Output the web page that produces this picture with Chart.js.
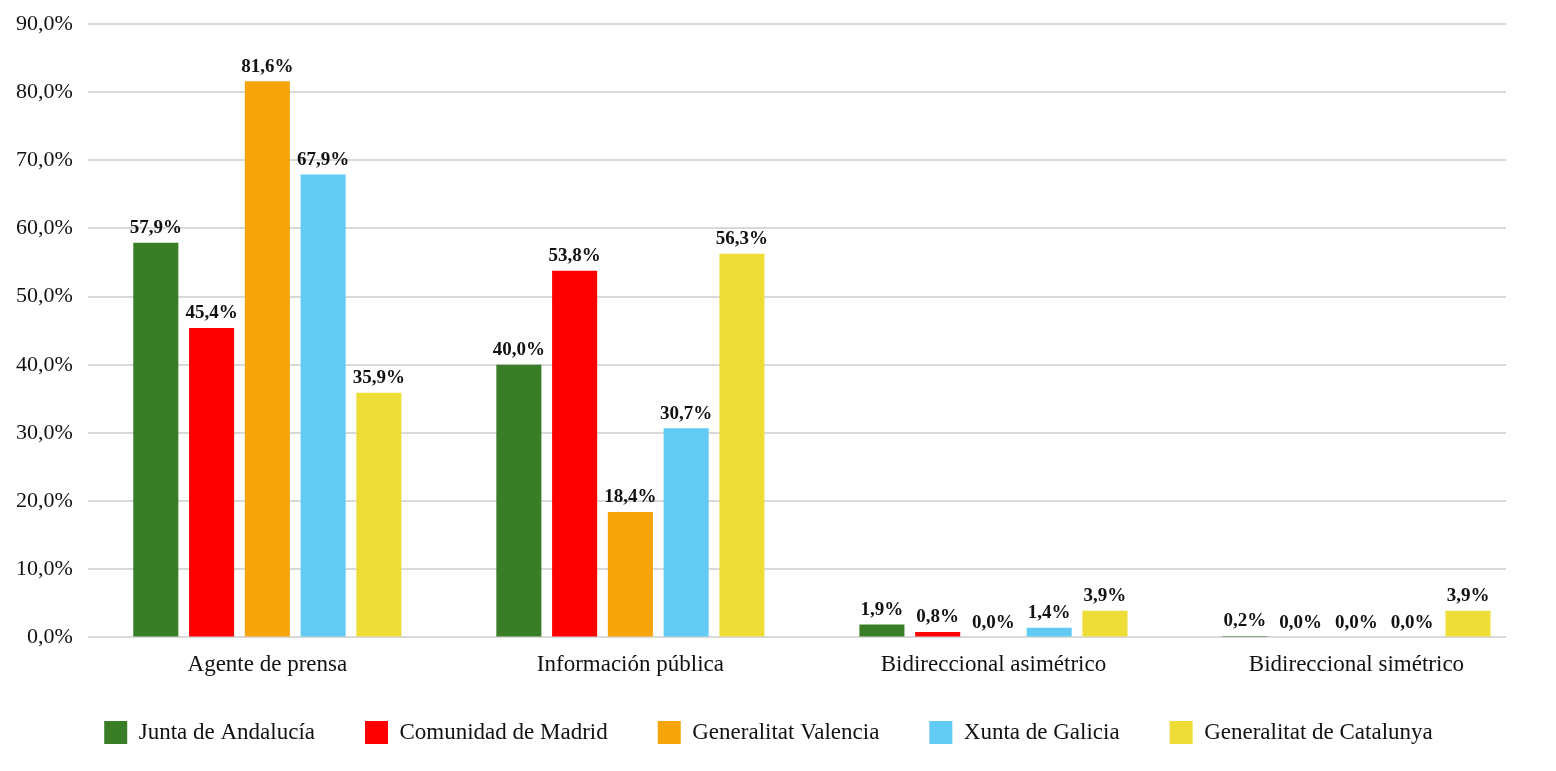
<!DOCTYPE html>
<html>
<head>
<meta charset="utf-8">
<script src="https://cdn.jsdelivr.net/npm/chart.js@4/dist/chart.umd.min.js"></script>
<style>
html,body{margin:0;padding:0;background:#fff;}
#wrap{width:1556px;height:771px;position:relative;}
</style>
</head>
<body>
<div id="wrap"><canvas id="c" width="1556" height="771"></canvas></div>
<script>
const categories = ["Agente de prensa", "Información pública", "Bidireccional asimétrico", "Bidireccional simétrico"];
const seriesNames = ["Junta de Andalucía", "Comunidad de Madrid", "Generalitat Valencia", "Xunta de Galicia", "Generalitat de Catalunya"];
const andalucia = [57.9, 40.0, 1.9, 0.2];
const madrid = [45.4, 53.8, 0.8, 0.0];
const valencia = [81.6, 18.4, 0.0, 0.0];
const galicia = [67.9, 30.7, 1.4, 0.0];
const catalunya = [35.9, 56.3, 3.9, 3.9];
const yTicks = [0, 10, 20, 30, 40, 50, 60, 70, 80, 90];

const colors = ["#3A7D27", "#FF0000", "#F7A40B", "#62CBF3", "#EEDD36"];
const seriesData = [andalucia, madrid, valencia, galicia, catalunya];
const fmt = v => v.toFixed(1).replace('.', ',') + '%';
const FONT = "'Liberation Serif', 'DejaVu Serif', serif";

const labelPlugin = {
  id: 'barLabels',
  afterLayout(chart) {
    if (chart.legend) {
      chart.legend.top -= 14;
      chart.legend.bottom -= 14;
      chart.legend.left += 15;
      chart.legend.right += 15;
    }
    const x = chart.scales.x;
    const a = chart.chartArea;
    x._startPixel = a.left - 2;
    x._length = (a.right - a.left) + 34;
    x._endPixel = x._startPixel + x._length;
  },
  afterDatasetsDraw(chart) {
    const ctx = chart.ctx;
    ctx.save();
    ctx.font = "bold 19px " + FONT;
    ctx.fillStyle = "#111";
    ctx.textAlign = "center";
    ctx.textBaseline = "bottom";
    chart.data.datasets.forEach((ds, i) => {
      const meta = chart.getDatasetMeta(i);
      meta.data.forEach((bar, j) => {
        ctx.fillText(fmt(ds.data[j]), bar.x, bar.y - 5);
      });
    });
    ctx.restore();
  }
};

new Chart(document.getElementById('c'), {
  type: 'bar',
  data: {
    labels: categories,
    datasets: seriesNames.map((n, i) => ({
      label: n,
      data: seriesData[i],
      backgroundColor: colors[i],
      borderWidth: 0,
      categoryPercentage: 0.768,
      barPercentage: 0.808
    }))
  },
  options: {
    responsive: false,
    animation: false,
    layout: { padding: { left: 1, right: 50, top: 24, bottom: 3 } },
    plugins: {
      legend: {
        position: 'bottom',
        labels: {
          boxWidth: 23, boxHeight: 23, padding: 50,
          color: '#111',
          font: { family: FONT, size: 23 }
        }
      },
      tooltip: { enabled: false }
    },
    scales: {
      x: {
        grid: { display: false },
        border: { display: false },
        ticks: { color: '#111', font: { family: FONT, size: 23 }, padding: 6 }
      },
      y: {
        min: 0, max: 90,
        afterBuildTicks: axis => { axis.ticks = yTicks.map(v => ({ value: v })); },
        afterFit: s => { s.paddingTop = 0; },
        grid: { color: '#D9D9D9', lineWidth: 2, drawTicks: false },
        border: { display: false },
        ticks: { color: '#111', font: { family: FONT, size: 22 }, padding: 15, callback: v => fmt(v) }
      }
    }
  },
  plugins: [labelPlugin]
});
</script>
</body>
</html>
